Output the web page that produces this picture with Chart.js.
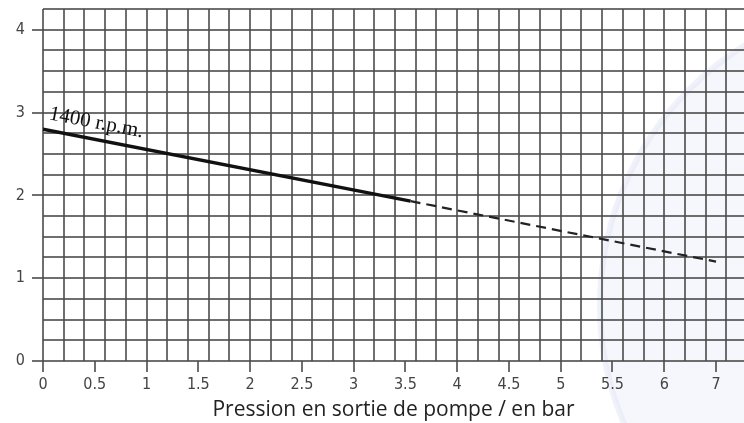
<!DOCTYPE html>
<html>
<head>
<meta charset="utf-8">
<script src="https://cdn.jsdelivr.net/npm/chart.js@4/dist/chart.umd.min.js"></script>
<style>
    html, body { margin: 0; padding: 0; background: #ffffff; }
    #wrap { width: 744px; height: 423px; position: relative; }
</style>
</head>
<body>
<div id="wrap"><canvas id="pumpChart"></canvas></div>
<script>
// Chart data (x = position along the drawn pressure scale)
const xTickLabels = ['0', '0.5', '1', '1.5', '2', '2.5', '3', '3.5', '4', '4.5', '5', '5.5', '6', '7'];
const yTickLabels = ['0', '1', '2', '3', '4'];
const solidX = [0, 3.55];
const solidY = [2.8, 1.93];
const dashedX = [3.55, 6.5];
const dashedY = [1.93, 1.2];
const curveLabel = '1400 r.p.m.';
const axisTitle = 'Pression en sortie de pompe / en bar';

const gridColor = 'rgba(75, 75, 75, 0.8)';
const tickFont = { family: "'Liberation Sans Narrow', 'DejaVu Sans Condensed', sans-serif", size: 16 };

function toPoints(xs, ys) {
    return xs.map((x, i) => ({ x: x, y: ys[i] }));
}

// Faint watermark arc on the right, behind the grid
const watermark = {
    id: 'watermark',
    beforeDraw(chart) {
        const ctx = chart.ctx;
        ctx.save();
        ctx.beginPath();
        ctx.arc(905, 305, 305, 0, Math.PI * 2);
        ctx.fillStyle = 'rgba(238, 239, 250, 0.5)';
        ctx.fill();
        ctx.lineWidth = 6;
        ctx.strokeStyle = 'rgba(222, 226, 245, 0.45)';
        ctx.stroke();
        ctx.restore();
    }
};

// Rotated curve label
const curveText = {
    id: 'curveText',
    afterDatasetsDraw(chart) {
        const ctx = chart.ctx;
        const px = chart.scales.x.getPixelForValue(0.05);
        const py = chart.scales.y.getPixelForValue(2.92);
        ctx.save();
        ctx.translate(px, py);
        ctx.rotate(11 * Math.PI / 180);
        ctx.font = "21px 'Liberation Serif', 'DejaVu Serif', serif";
        ctx.fillStyle = '#111';
        ctx.textBaseline = 'alphabetic';
        ctx.fillText(curveLabel, 0, 0);
        ctx.restore();
    }
};

function noPad(s) {
    s.paddingTop = 0;
    s.paddingBottom = 0;
    s.paddingLeft = 0;
    s.paddingRight = 0;
}

const ctx = document.getElementById('pumpChart').getContext('2d');
new Chart(ctx, {
    type: 'line',
    data: {
        datasets: [
            {
                data: toPoints(solidX, solidY),
                borderColor: '#111',
                borderWidth: 3.5,
                pointRadius: 0,
                xAxisID: 'x',
                yAxisID: 'y'
            },
            {
                data: toPoints(dashedX, dashedY),
                borderColor: '#222',
                borderWidth: 2.2,
                borderDash: [10, 6],
                pointRadius: 0,
                xAxisID: 'x',
                yAxisID: 'y'
            }
        ]
    },
    options: {
        responsive: true,
        maintainAspectRatio: false,
        animation: false,
        layout: { padding: { top: 9, right: 0, left: 0, bottom: 0 } },
        plugins: {
            legend: { display: false },
            tooltip: { enabled: false }
        },
        scales: {
            x: {
                type: 'linear',
                min: 0,
                max: 6.77,
                ticks: { display: false, stepSize: 0.2, includeBounds: false },
                grid: { color: gridColor, lineWidth: 2, drawTicks: false },
                border: { display: false },
                afterFit: s => { s.height = 0; noPad(s); }
            },
            xLabels: {
                type: 'linear',
                position: 'bottom',
                min: 0,
                max: 6.77,
                ticks: {
                    stepSize: 0.5,
                    includeBounds: false,
                    color: '#444',
                    font: tickFont,
                    padding: 3,
                    maxRotation: 0,
                    autoSkip: false,
                    callback: (v, i) => xTickLabels[i]
                },
                grid: { drawOnChartArea: false, drawTicks: true, tickLength: 11, color: gridColor, lineWidth: 2 },
                border: { display: false },
                title: {
                    display: true,
                    text: axisTitle,
                    color: '#222',
                    font: { family: "'Open Sans', sans-serif", size: 21 },
                    padding: { top: 0, bottom: 0 }
                },
                afterFit: s => { s.height = 62; noPad(s); }
            },
            y: {
                type: 'linear',
                min: 0,
                max: 4.25,
                ticks: { display: false, stepSize: 0.25 },
                grid: { color: gridColor, lineWidth: 2, drawTicks: false },
                border: { display: false },
                afterFit: s => { s.width = 0; noPad(s); }
            },
            yLabels: {
                type: 'linear',
                position: 'left',
                min: 0,
                max: 4.25,
                ticks: {
                    stepSize: 1,
                    includeBounds: false,
                    color: '#444',
                    font: tickFont,
                    padding: 7,
                    callback: (v, i) => yTickLabels[i]
                },
                grid: { drawOnChartArea: false, drawTicks: true, tickLength: 11, color: gridColor, lineWidth: 2 },
                border: { display: false },
                afterFit: s => { s.width = 43; noPad(s); }
            }
        }
    },
    plugins: [watermark, curveText]
});
</script>
</body>
</html>
